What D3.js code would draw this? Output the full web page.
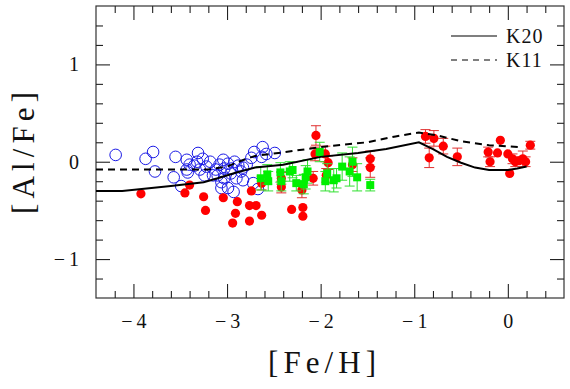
<!DOCTYPE html>
<html><head><meta charset="utf-8">
<script src="https://cdn.jsdelivr.net/npm/d3@7"></script>
<style>html,body{margin:0;padding:0;background:#fff;}
svg text{font-family:"Liberation Serif","Times New Roman","DejaVu Serif",serif !important;}</style>
</head><body>
<svg id="c" width="570" height="389"></svg>
<script>
// ---------- data ----------
const xMajor = [-4, -3, -2, -1, 0];
const yMajor = [-1, 0, 1];
const xTitle = "[Fe/H]";
const yTitle = "[Al/Fe]";
const legendLabels = ["K20", "K11"];

// model curves
const k20X = [-4.4, -4.12, -3.6, -3.25, -3.1, -2.9, -2.7, -2.4, -2.0, -1.6, -1.3, -0.95, -0.8, -0.65, -0.5, -0.35, -0.2, 0.0, 0.1, 0.2];
const k20Y = [-0.30, -0.30, -0.25, -0.21, -0.17, -0.11, -0.06, -0.03, 0.05, 0.09, 0.13, 0.20, 0.13, 0.05, -0.01, -0.06, -0.085, -0.085, -0.07, -0.05];
const k11X = [-4.4, -3.2, -3.0, -2.85, -2.7, -2.45, -2.0, -1.5, -1.2, -0.95, -0.75, -0.5, -0.2, 0.15];
const k11Y = [-0.08, -0.08, -0.05, 0.01, 0.06, 0.09, 0.15, 0.20, 0.26, 0.30, 0.27, 0.21, 0.17, 0.15];

// open blue circles [Fe/H, Al/Fe]
const blueX = [-4.19, -3.87, -3.79, -3.77, -3.55, -3.57, -3.49, -3.43, -3.43, -3.40, -3.31, -3.32, -3.42, -3.29, -3.24, -3.18, -3.22, -3.15, -3.10, -3.08, -3.04, -3.03, -2.99, -2.95, -2.92, -2.88, -2.85, -3.06, -2.99, -2.93, -3.06, -3.03, -2.90, -2.96, -3.12, -2.79, -2.74, -2.71, -2.62, -2.63, -2.58, -2.49, -2.72, -2.83, -3.35, -3.26, -2.83, -2.67];
const blueY = [0.07, 0.03, 0.10, -0.10, 0.05, -0.16, -0.25, 0.02, -0.08, -0.03, 0.09, 0.00, -0.11, -0.08, -0.14, 0.00, -0.05, -0.14, -0.14, -0.03, 0.02, -0.07, -0.02, -0.07, 0.00, -0.04, -0.10, -0.21, -0.27, -0.31, -0.27, -0.17, -0.17, -0.12, -0.08, -0.03, 0.04, 0.10, 0.15, 0.05, 0.08, 0.09, -0.22, -0.06, -0.04, 0.03, -0.19, -0.28];

// red filled circles [Fe/H, Al/Fe, error]
const redX = [-3.92, -3.45, -3.40, -3.25, -3.23, -3.04, -2.89, -2.91, -2.94, -2.76, -2.69, -2.74, -2.76, -2.63, -2.63, -2.42, -2.42, -2.31, -2.19, -2.19, -2.20, -2.08, -2.05, -2.06, -1.95, -1.92, -1.94, -1.66, -1.47, -1.47, -0.88, -0.79, -0.69, -0.84, -0.54, -0.21, -0.19, -0.08, -0.11, 0.00, 0.02, 0.05, 0.08, 0.12, 0.16, 0.19, 0.24];
const redY = [-0.33, -0.32, -0.24, -0.36, -0.50, -0.37, -0.41, -0.53, -0.63, -0.45, -0.45, -0.30, -0.61, -0.55, -0.22, -0.17, -0.26, -0.49, -0.47, -0.56, -0.29, -0.17, 0.27, 0.08, 0.08, -0.01, -0.14, -0.03, 0.03, -0.06, 0.26, 0.24, 0.16, 0.04, 0.05, 0.10, 0.00, 0.22, 0.09, 0.08, -0.12, 0.03, 0.00, 0.01, 0.03, 0.00, 0.17];
const redErr = [0, 0, 0, 0, 0, 0, 0, 0, 0, 0, 0, 0, 0, 0, 0.07, 0.06, 0.06, 0, 0, 0, 0.08, 0.07, 0.10, 0.07, 0.08, 0.07, 0.07, 0.07, 0.08, 0.10, 0.07, 0.08, 0.08, 0.10, 0.09, 0.05, 0.05, 0, 0, 0, 0, 0.05, 0.05, 0, 0.08, 0.05, 0.04];

// green filled squares [Fe/H, Al/Fe, error]
const greenX = [-2.64, -2.57, -2.56, -2.43, -2.42, -2.33, -2.30, -2.26, -2.18, -2.16, -2.14, -2.01, -1.95, -1.93, -1.86, -1.83, -1.77, -1.69, -1.66, -1.61, -1.47];
const greenY = [-0.17, -0.13, -0.20, -0.11, -0.20, -0.10, -0.085, -0.22, -0.23, -0.16, -0.10, 0.10, -0.20, -0.12, -0.19, -0.17, -0.05, -0.10, 0.00, -0.16, -0.24];
const greenErr = [0.12, 0.10, 0.10, 0.10, 0.10, 0.10, 0.08, 0.08, 0.10, 0.12, 0.12, 0.10, 0.10, 0.10, 0.12, 0.10, 0.14, 0.15, 0.15, 0.14, 0.06];

// ---------- layout ----------
const L = 96, R = 564, T = 6, B = 298;
const x = d3.scaleLinear().domain([-4.4, 0.6]).range([L, R]);
const y = d3.scaleLinear().domain([-1.4, 1.6]).range([B, T]);
const svg = d3.select("#c");
const FONT = "'Liberation Serif', 'Times New Roman', serif";

// frame
svg.append("rect").attr("x", L).attr("y", T).attr("width", R - L).attr("height", B - T)
  .attr("fill", "none").attr("stroke", "#333").attr("stroke-width", 1.2);

const xMinor = d3.range(-4.2, 0.55, 0.2).map(v => +v.toFixed(2)).filter(v => !xMajor.some(m => Math.abs(m - v) < 1e-6));
const yMinor = d3.range(-1.2, 1.55, 0.2).map(v => +v.toFixed(2)).filter(v => !yMajor.some(m => Math.abs(m - v) < 1e-6));
const fmt = v => (v < 0 ? "\u2212" : "") + Math.abs(v);

function styleAxis(g) {
  g.attr("font-family", FONT);
  g.select(".domain").remove();
  g.selectAll(".tick line").attr("stroke", "#222").attr("stroke-width", 1.1);
  g.selectAll("text").attr("font-family", FONT).attr("font-size", 20).attr("fill", "#111");
}
// bottom
svg.append("g").attr("transform", `translate(0,${B})`)
  .call(d3.axisBottom(x).tickValues(xMajor).tickSize(-14).tickPadding(16).tickFormat(fmt)).call(styleAxis)
  .selectAll("text").attr("letter-spacing", "4px").attr("dx", "2px");
svg.append("g").attr("transform", `translate(0,${B})`)
  .call(d3.axisBottom(x).tickValues(xMinor).tickSize(-7).tickFormat("")).call(styleAxis);
// top
svg.append("g").attr("transform", `translate(0,${T})`)
  .call(d3.axisTop(x).tickValues(xMajor).tickSize(-14).tickFormat("")).call(styleAxis);
svg.append("g").attr("transform", `translate(0,${T})`)
  .call(d3.axisTop(x).tickValues(xMinor).tickSize(-7).tickFormat("")).call(styleAxis);
// left
svg.append("g").attr("transform", `translate(${L},0)`)
  .call(d3.axisLeft(y).tickValues(yMajor).tickSize(-14).tickPadding(17).tickFormat(fmt)).call(styleAxis)
  .selectAll("text").attr("letter-spacing", "4px").attr("dx", "4px");
svg.append("g").attr("transform", `translate(${L},0)`)
  .call(d3.axisLeft(y).tickValues(yMinor).tickSize(-7).tickFormat("")).call(styleAxis);
// right
svg.append("g").attr("transform", `translate(${R},0)`)
  .call(d3.axisRight(y).tickValues(yMajor).tickSize(-14).tickFormat("")).call(styleAxis);
svg.append("g").attr("transform", `translate(${R},0)`)
  .call(d3.axisRight(y).tickValues(yMinor).tickSize(-7).tickFormat("")).call(styleAxis);

// titles
svg.append("text").attr("x", 322).attr("y", 373).attr("text-anchor", "middle")
  .attr("font-family", FONT).attr("font-size", 31).attr("fill", "#111")
  .attr("textLength", 108).attr("lengthAdjust", "spacing").text(xTitle);
svg.append("text").attr("transform", "translate(34,153) rotate(-90)").attr("text-anchor", "middle")
  .attr("font-family", FONT).attr("font-size", 31).attr("fill", "#111")
  .attr("textLength", 122).attr("lengthAdjust", "spacing").text(yTitle);

const plot = svg.append("g");

// blue open circles
plot.selectAll("circle.blue").data(blueX.map((v, i) => [v, blueY[i]])).join("circle")
  .attr("class", "blue").attr("cx", d => x(d[0])).attr("cy", d => y(d[1])).attr("r", 5.8)
  .attr("fill", "none").attr("stroke", "#1a1ae6").attr("stroke-width", 1);

// red error bars & circles
const reds = redX.map((v, i) => [v, redY[i], redErr[i]]);
const redE = reds.filter(d => d[2] > 0);
plot.selectAll("path.rerr").data(redE).join("path").attr("class", "rerr")
  .attr("d", d => {
    const cx = x(d[0]), y1 = y(d[1] + d[2]), y2 = y(d[1] - d[2]);
    return `M${cx},${y1}V${y2}M${cx - 5},${y1}H${cx + 5}M${cx - 5},${y2}H${cx + 5}`;
  }).attr("stroke", "#e03030").attr("stroke-width", 1).attr("fill", "none");
plot.selectAll("circle.red").data(reds).join("circle").attr("class", "red")
  .attr("cx", d => x(d[0])).attr("cy", d => y(d[1])).attr("r", 4.6).attr("fill", "#ff0000");

// green error bars & squares
const greens = greenX.map((v, i) => [v, greenY[i], greenErr[i]]);
plot.selectAll("path.gerr").data(greens).join("path").attr("class", "gerr")
  .attr("d", d => {
    const cx = x(d[0]), y1 = y(d[1] + d[2]), y2 = y(d[1] - d[2]);
    return `M${cx},${y1}V${y2}M${cx - 5},${y1}H${cx + 5}M${cx - 5},${y2}H${cx + 5}`;
  }).attr("stroke", "#30e030").attr("stroke-width", 1).attr("fill", "none");
plot.selectAll("rect.green").data(greens).join("rect").attr("class", "green")
  .attr("x", d => x(d[0]) - 4).attr("y", d => y(d[1]) - 4).attr("width", 8).attr("height", 8)
  .attr("fill", "#00f000");

// model lines
const line = d3.line().x(d => x(d[0])).y(d => y(d[1]));
plot.append("path").datum(k20X.map((v, i) => [v, k20Y[i]])).attr("d", line)
  .attr("fill", "none").attr("stroke", "#000").attr("stroke-width", 2);
plot.append("path").datum(k11X.map((v, i) => [v, k11Y[i]])).attr("d", line)
  .attr("fill", "none").attr("stroke", "#000").attr("stroke-width", 2).attr("stroke-dasharray", "7,5");

// legend
const leg = svg.append("g");
[0, 1].forEach(i => {
  const ly = 36 + i * 24;
  leg.append("line").attr("x1", 451).attr("x2", 497).attr("y1", ly).attr("y2", ly)
    .attr("stroke", "#000").attr("stroke-width", 1.1).attr("stroke-dasharray", i ? "6,5" : null);
  leg.append("text").attr("x", 506).attr("y", ly + 6.5).attr("font-family", FONT).attr("font-size", 20)
    .attr("fill", "#111").attr("letter-spacing", "1px").text(legendLabels[i]);
});
</script>
</body></html>
